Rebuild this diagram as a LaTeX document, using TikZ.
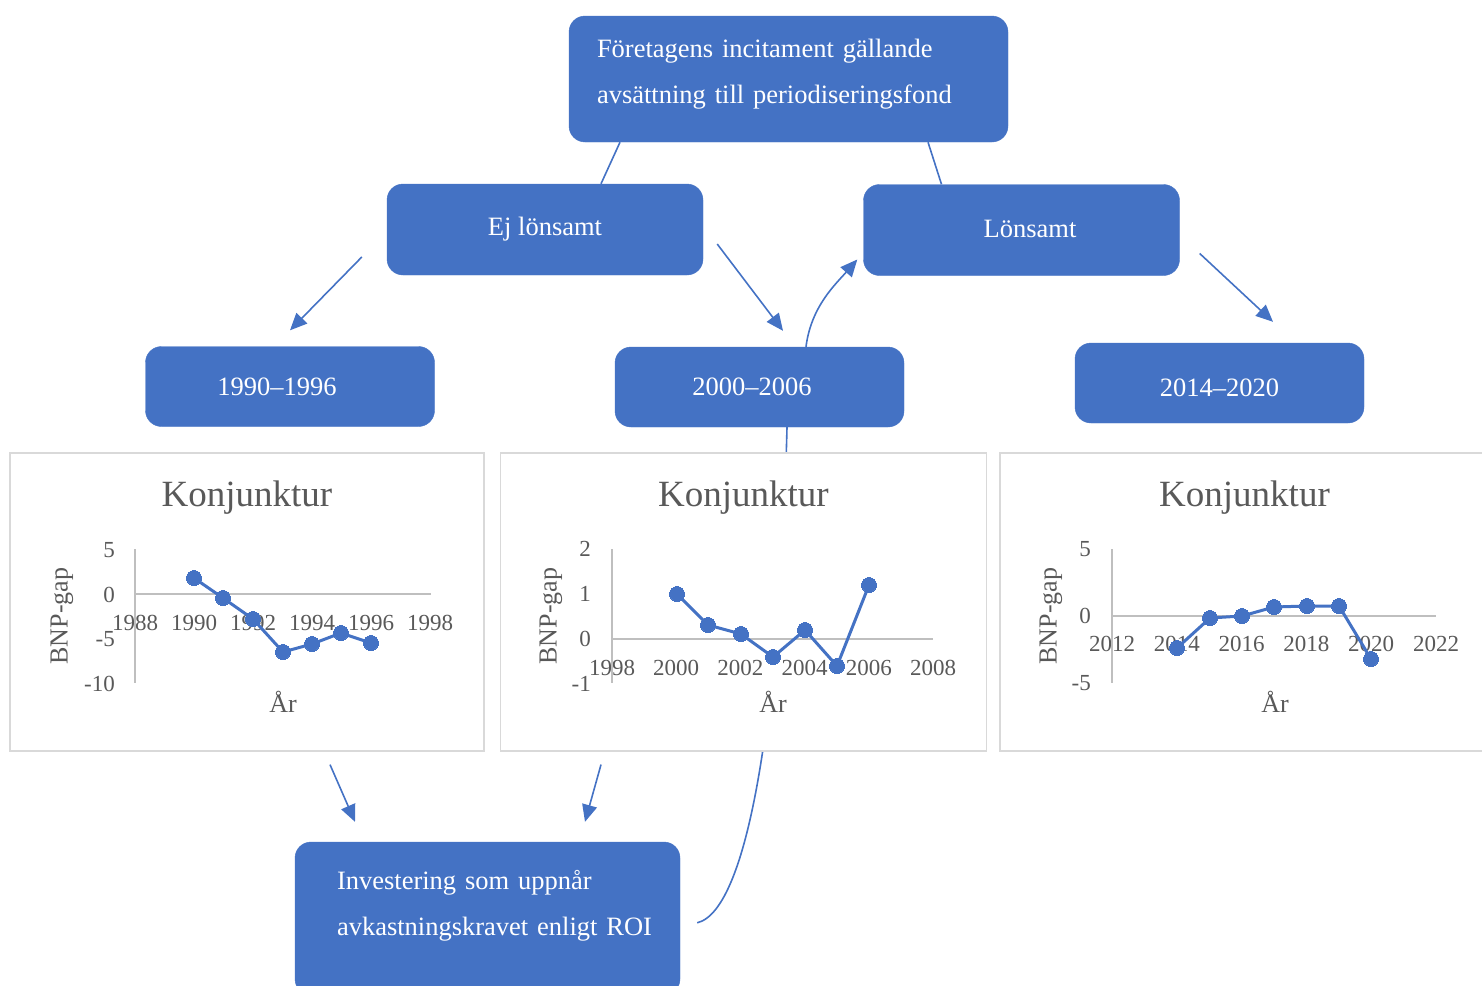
\documentclass[tikz,border=0pt]{standalone}
\usepackage{fontspec}
\setmainfont{Liberation Serif}
\usetikzlibrary{arrows.meta,calc}
\definecolor{boxblue}{HTML}{4472C4}
\definecolor{txtgray}{HTML}{595959}
\definecolor{axisgray}{HTML}{BFBFBF}
\definecolor{framegray}{HTML}{D9D9D9}

\begin{document}
\begin{tikzpicture}[
        x=1pt, y=-1pt,
        box/.style = {shape=rectangle, rounded corners=16pt, draw=boxblue, fill=boxblue, text=white, font=\fontsize{26.5}{46}\selectfont},
        nudge/.style = {execute at begin node={\hspace*{#1}}},
        answer/.style = {box, minimum width=316pt, minimum height=91pt},
        period/.style = {box, minimum width=289pt, minimum height=80pt},
        chartframe/.style = {shape=rectangle, draw=framegray, line width=1.2pt, fill=white, minimum height=298pt},
        charttitle/.style = {text=txtgray, font=\fontsize{37}{40}\selectfont},
        axistitle/.style = {text=txtgray, font=\fontsize{26}{30}\selectfont},
        xtick/.style = {text=txtgray, font=\fontsize{23}{26}\selectfont, inner sep=0pt},
        ytick/.style = {xtick, anchor=east},
        axisline/.style = {draw=axisgray, line width=1.2pt},
        series/.style = {draw=boxblue, line width=3pt, mark=*, mark size=7.5pt, mark options={fill=boxblue, draw=boxblue, line width=0pt}},
        link/.style = {draw=boxblue, line width=1.6pt},
        flow/.style = {link, -{Triangle[length=17pt,width=15pt]}}
    ]
    \clip (0,0) rectangle (1482,985);

    \node[box, text width=383pt, align=left, inner xsep=28pt, inner ysep=23pt, text height=18pt, text depth=62pt] (top) at (788.5,79) {Företagens incitament gällande\\avsättning till periodiseringsfond};
    \node[answer] (ej) at (545,229.5) {Ej lönsamt};
    \node[answer, nudge=17pt, text height=16pt] (lon) at (1021.5,230) {Lönsamt};
    \node[period, nudge=-26pt] (p90) at (290,386.5) {1990–1996};
    \node[period, nudge=-15pt] (p00) at (759.5,387) {2000–2006};
    \node[period, text height=28pt] (p14) at (1219.5,383) {2014–2020};
    \node[box, text width=301pt, align=left, inner xsep=42pt, inner ysep=29pt, text height=18pt, text depth=77pt] (inv) at (487.5,918.5) {\mbox{Investering som uppnår}\\\mbox{avkastningskravet enligt ROI}};

    \draw[link] ($(top.south)+(-168.5,0)$) -- ($(ej.north)+(56,0)$);
    \draw[link] ($(top.south)+(139.5,0)$) -- ($(lon.north)+(-80,0)$);

    \coordinate (ejL) at ($(ej.west)+(-25,27.5)$);
    \coordinate (p90T) at ($(p90.north)+(0,-16)$);
    \coordinate (ejR) at ($(ej.east)+(14,14.5)$);
    \coordinate (p00T) at ($(p00.north)+(23.5,-16)$);
    \coordinate (lonR) at ($(lon.east)+(20,23.5)$);
    \coordinate (p14T) at ($(p14.north)+(53.5,-21)$);
    \coordinate (lonL) at ($(lon.west)+(-6,29.5)$);
    \coordinate (invR) at ($(inv.north east)+(17,81)$);
    \draw[flow] (ejL) -- (p90T);
    \draw[flow] (ejR) -- (p00T);
    \draw[flow] (lonR) -- (p14T);
    \draw[flow] ($(p00.north)+(46.5,0)$) .. controls +(5,-40) and +(-22,25) .. (lonL);
    \draw[link] (invR) .. controls (750,910) and (780,700) .. ($(p00.south)+(27.5,0)$);

    \node[chartframe, minimum width=474pt] (chA) at (247,602) {};
    \node[chartframe, minimum width=486pt] (chB) at (743.5,602) {};
    \node[chartframe, minimum width=487pt] (chC) at (1243.5,602) {};

    \node[charttitle] (tA) at (247,498) {Konjunktur};
    \node[axistitle, rotate=90] (gA) at (62,616) {BNP-gap};
    \node[axistitle] (aA) at (283,702) {År};
    \foreach \v [count=\i] in {5,0,-5,-10}
        \node[ytick] (yA\i) at (115,{595-\v*8.9}) {\v};
    \foreach \yr in {1988,1990,...,1998}
        \node[xtick] (xA\yr) at ({135+(\yr-1988)*29.5},623) {\yr};
    \draw[axisline] (135,549) -- (135,683);
    \draw[axisline] (135,594) -- (431,594);
    \draw[series] plot coordinates {(194,578) (223,598) (253,619) (283,652) (312,644) (341,633) (371,643)};

    \node[charttitle] (tB) at (743.5,498) {Konjunktur};
    \node[axistitle, rotate=90] (gB) at (551,616) {BNP-gap};
    \node[axistitle] (aB) at (773,702) {År};
    \foreach \v [count=\i] in {2,1,0,-1}
        \node[ytick] (yB\i) at (591,{638.7-\v*44.7}) {\v};
    \foreach \yr in {1998,2000,...,2008}
        \node[xtick] (xB\yr) at ({612+(\yr-1998)*32.1},668) {\yr};
    \draw[axisline] (612,549) -- (612,683);
    \draw[axisline] (612,639) -- (933,639);
    \draw[series] plot coordinates {(677,594) (708,625) (741,634) (773,657) (805,630) (837,666) (869,585)};

    \node[charttitle] (tC) at (1244.5,498) {Konjunktur};
    \node[axistitle, rotate=90] (gC) at (1051,616) {BNP-gap};
    \node[axistitle] (aC) at (1275,702) {År};
    \foreach \v [count=\i] in {5,0,-5}
        \node[ytick] (yC\i) at (1091,{616-\v*13.4}) {\v};
    \foreach \yr in {2012,2014,...,2022}
        \node[xtick] (xC\yr) at ({1112+(\yr-2012)*32.4},644) {\yr};
    \draw[axisline] (1112,549) -- (1112,683);
    \draw[axisline] (1112,616) -- (1436,616);
    \draw[series] plot coordinates {(1177,648) (1210,618) (1242,616) (1274,607) (1307,606) (1339,606) (1371,659)};

    \coordinate (chAo) at ($(chA.south)+(83,13)$);
    \coordinate (invA) at ($(inv.north)+(-132.5,-20)$);
    \coordinate (chBo) at ($(chB.south)+(-142.5,13)$);
    \coordinate (invB) at ($(inv.north)+(97.5,-20)$);
    \draw[flow] (chAo) -- (invA);
    \draw[flow] (chBo) -- (invB);
\end{tikzpicture}
\end{document}
